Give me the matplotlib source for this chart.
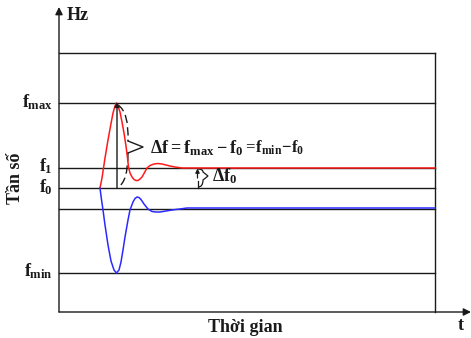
"""
Frequency response sketch: f vs time after a disturbance
"""
import matplotlib
matplotlib.use('Agg')
import matplotlib.pyplot as plt
from matplotlib.path import Path
from matplotlib.patches import PathPatch

plt.rcParams['font.family'] = ['Liberation Serif', 'DejaVu Serif']
plt.rcParams['font.weight'] = 'bold'
plt.rcParams['mathtext.fontset'] = 'custom'
plt.rcParams['mathtext.rm'] = 'Liberation Serif:bold'
plt.rcParams['mathtext.it'] = 'Liberation Serif:bold'
plt.rcParams['mathtext.bf'] = 'Liberation Serif:bold'

# coordinates (pixels, y down)
box_left, box_right, box_top, box_bottom = 59, 435, 53, 312
grid_levels = [53, 103, 168, 188, 209, 273]
level_names = ['$f_{max}$', '$f_1$', '$f_0$', '$f_{min}$']
level_pos = [102, 166, 187, 271]

red_t = [100, 102, 105, 108, 110, 113, 115, 116.5, 118, 120, 122, 124, 126, 127.5, 128.5,
         130, 132, 134, 136, 138, 140, 142, 144, 147, 150, 154, 158, 162, 166, 170,
         175, 182, 190, 435]
red_f = [188, 178, 158, 140, 129, 113, 106, 103, 106, 112, 122, 133, 146, 158, 167,
         173, 177, 179.5, 180.5, 180.5, 179, 177, 173.5, 168, 165.5, 164, 163.5, 164, 165, 166,
         167, 168, 168, 168]

blue_t = [100, 101, 103, 105, 108, 111, 114, 116.5, 119, 121, 123, 125, 128, 130, 133,
          135, 137, 139, 141, 144, 148, 152, 156, 160, 166, 172, 180, 187, 435]
blue_f = [188, 196, 210, 225, 245, 261, 270, 273, 270, 262, 250, 237, 220, 210, 202,
          198.5, 197, 197.5, 199.5, 204, 209, 211.5, 212, 212, 211, 210, 209, 208, 208]

ink = '#1a1a1a'
fig = plt.figure(figsize=(4.71, 3.38), dpi=100)
ax = fig.add_axes([0, 0, 1, 1])
ax.set_xlim(0, 471)
ax.set_ylim(338, 0)
ax.axis('off')

for y in grid_levels:
    ax.plot([box_left, box_right], [y, y], color=ink, lw=1.0)
ax.plot([box_right, box_right], [box_top, box_bottom], color=ink, lw=1.0)

# axes with arrow heads
ax.annotate('', xy=(box_left, 7), xytext=(box_left, box_bottom),
            arrowprops=dict(arrowstyle='-|>', color=ink, lw=1.0, mutation_scale=11, shrinkA=0, shrinkB=0))
ax.annotate('', xy=(471, box_bottom), xytext=(box_left, box_bottom),
            arrowprops=dict(arrowstyle='-|>', color=ink, lw=1.0, mutation_scale=11, shrinkA=0, shrinkB=0))

ax.plot(red_t, red_f, color='#ff1a1a', lw=1.1)
ax.plot(blue_t, blue_f, color='#2a2aff', lw=1.1)

# delta f marker: vertical arrow + dashed brace
ax.annotate('', xy=(117, 102), xytext=(117, 188),
            arrowprops=dict(arrowstyle='-|>', color=ink, lw=1.0, mutation_scale=7, shrinkA=0, shrinkB=0))
brace = Path([(118, 105), (129, 112), (128, 141), (128, 153), (128, 182), (118, 187)],
             [Path.MOVETO, Path.CURVE3, Path.CURVE3, Path.MOVETO, Path.CURVE3, Path.CURVE3])
ax.add_patch(PathPatch(brace, fill=False, ec=ink, lw=1.0, ls=(0, (6, 3))))
ax.plot([128, 143, 128], [141, 147, 153], color=ink, lw=1.0)

ax.annotate('', xy=(197.5, 168.5), xytext=(197.5, 178),
            arrowprops=dict(arrowstyle='-|>', color=ink, lw=0.9, mutation_scale=6, shrinkA=0, shrinkB=0))
brace0 = Path([(198, 169), (203, 169), (203, 172), (208, 176), (203, 180), (203, 187), (198, 187)],
              [Path.MOVETO, Path.CURVE3, Path.CURVE3, Path.LINETO, Path.LINETO, Path.CURVE3, Path.CURVE3])
ax.add_patch(PathPatch(brace0, fill=False, ec=ink, lw=0.9))
ax.plot([197.5, 197.5], [181, 188], color=ink, lw=0.9)

ax.text(150, 148, r'$\Delta f=f_{max}-f_0$', fontsize=13,
        ha='left', va='center', color=ink)
ax.text(243, 148, r'$=\!f_{min}\!-\!f_0$', fontsize=12,
        ha='left', va='center', color=ink)
ax.text(212, 176, r'$\Delta f_0$', fontsize=13, ha='left', va='center', color=ink)

for name, y in zip(level_names, level_pos):
    ax.text(53, y, name, fontsize=13, ha='right', va='center', color=ink)

ax.text(67, 16, 'Hz', fontsize=13, ha='left', va='center', fontweight='bold', color=ink)
ax.text(15, 178, 'Tần số', fontsize=13, rotation=90, ha='center', va='center', fontweight='bold', color=ink)
ax.text(245, 327, 'Thời gian', fontsize=13, ha='center', va='center', fontweight='bold', color=ink)
ax.text(461, 325, 't', fontsize=13, ha='center', va='center', fontweight='bold', color=ink)

plt.savefig('out.png', dpi=100)
